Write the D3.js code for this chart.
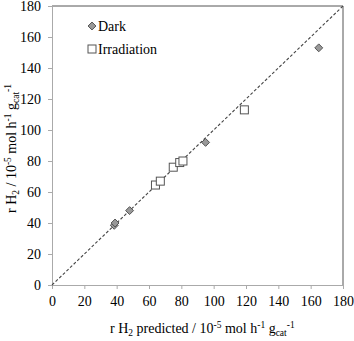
<!DOCTYPE html>
<html>
<head>
<meta charset="utf-8">
<script src="https://cdn.jsdelivr.net/npm/d3@7"></script>
<style>
  body { margin: 0; background: #fff; }
  svg text { font-family: "Liberation Serif", "DejaVu Serif", serif !important; fill: #000; }
</style>
</head>
<body>
<svg id="chart" width="354" height="341" font-family="Liberation Serif"></svg>
<script>
// values
const darkX = [38.5, 39, 48, 95, 165];
const darkY = [38.5, 40, 48, 92, 153];
const irrX = [64, 67, 75, 79, 81, 119];
const irrY = [64.5, 67, 76, 79, 80, 113];
const ticks = [0, 20, 40, 60, 80, 100, 120, 140, 160, 180];

const svg = d3.select("#chart");
const mar = { top: 6, right: 11, bottom: 56, left: 52 };
const w = 354 - mar.left - mar.right;
const h = 341 - mar.top - mar.bottom;
const fs = "14px";

const g = svg.append("g").attr("transform", `translate(${mar.left},${mar.top})`);

const x = d3.scaleLinear().domain([0, 180]).range([0, w]);
const y = d3.scaleLinear().domain([0, 180]).range([h, 0]);

// frame: top and right border darker
g.append("line").attr("x1", 0).attr("x2", w).attr("y1", 0).attr("y2", 0)
    .attr("stroke", "#555").attr("stroke-width", 1);
g.append("line").attr("x1", w).attr("x2", w).attr("y1", 0).attr("y2", h)
    .attr("stroke", "#555").attr("stroke-width", 1);

// axes
const xAxis = g.append("g")
    .attr("transform", `translate(0,${h})`)
    .call(d3.axisBottom(x).tickValues(ticks).tickSize(4).tickSizeOuter(0).tickPadding(7));
const yAxis = g.append("g")
    .call(d3.axisLeft(y).tickValues(ticks).tickSize(4).tickSizeOuter(0).tickPadding(7));
[xAxis, yAxis].forEach(a => {
    a.attr("font-family", null).attr("font-size", null);
    a.select(".domain").attr("stroke", "#aaa");
    a.selectAll(".tick line").attr("stroke", "#aaa");
    a.selectAll(".tick text")
        .style("font-size", fs)
        .attr("fill", "#000");
});

// 1:1 line
g.append("line")
    .attr("x1", x(0)).attr("y1", y(0))
    .attr("x2", x(180)).attr("y2", y(180))
    .attr("stroke", "#444").attr("stroke-width", 1.1)
    .attr("stroke-dasharray", "3,2");

// markers
const dark = darkX.map((d, i) => ({ x: d, y: darkY[i] }));
const irr = irrX.map((d, i) => ({ x: d, y: irrY[i] }));
const diamond = d3.symbol().type(d3.symbolDiamond2).size(40);

g.selectAll(".sq")
    .data(irr)
    .enter()
    .append("rect")
    .attr("x", d => x(d.x) - 4)
    .attr("y", d => y(d.y) - 4)
    .attr("width", 8)
    .attr("height", 8)
    .attr("fill", "#fff")
    .attr("stroke", "#555")
    .attr("stroke-width", 1);

g.selectAll(".dm")
    .data(dark)
    .enter()
    .append("path")
    .attr("d", diamond)
    .attr("transform", d => `translate(${x(d.x)},${y(d.y)})`)
    .attr("fill", "#999")
    .attr("stroke", "#555")
    .attr("stroke-width", 1);

// legend
svg.append("path").attr("d", diamond)
    .attr("transform", "translate(92,26)")
    .attr("fill", "#999").attr("stroke", "#555");
svg.append("text").attr("x", 98).attr("y", 31).style("font-size", fs).text("Dark");
svg.append("rect").attr("x", 88).attr("y", 45).attr("width", 8).attr("height", 8)
    .attr("fill", "#fff").attr("stroke", "#555");
svg.append("text").attr("x", 98).attr("y", 54).style("font-size", fs).text("Irradiation");

// text with sub/superscripts
function richText(sel, parts) {
    let shift = 0;
    parts.forEach(p => {
        const target = p[1] === "sub" ? 3 : p[1] === "sup" ? -5 : 0;
        sel.append("tspan")
            .attr("dy", target - shift)
            .style("font-size", p[1] ? "9.5px" : fs)
            .text(p[0]);
        shift = target;
    });
}

const title = [["r H"], ["2", "sub"], [" predicted / 10"], ["-5", "sup"], [" mol h"], ["-1", "sup"],
    [" g"], ["cat", "sub"], ["-1", "sup"]];
const ytitle = [["r H"], ["2", "sub"], [" / 10"], ["-5", "sup"], [" mol h"], ["-1", "sup"],
    [" g"], ["cat", "sub"], ["-1", "sup"]];

richText(svg.append("text").attr("x", 110).attr("y", 333), title);
richText(svg.append("text")
    .attr("transform", "translate(16,213) rotate(-90)")
    .attr("x", 0).attr("y", 0), ytitle);
</script>
</body>
</html>
